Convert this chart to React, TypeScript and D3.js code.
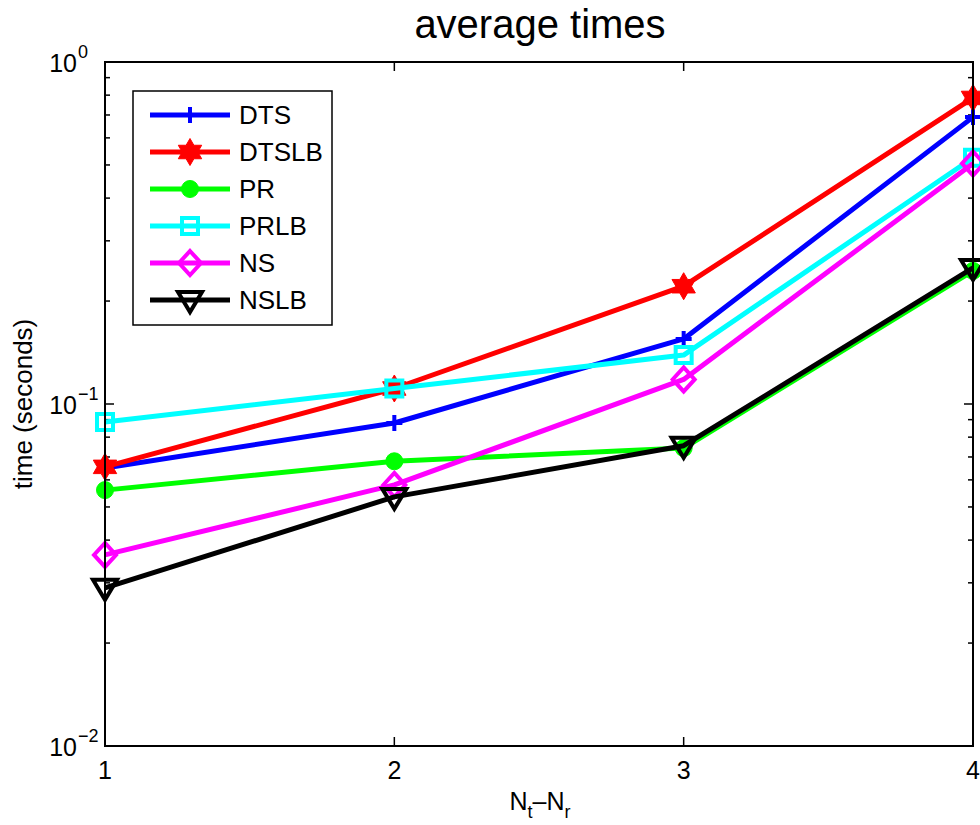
import React from 'react';
import * as d3 from 'd3';

const W = 980;
const H = 825;

const xValues = [1, 2, 3, 4];
const seriesNames = ['DTS', 'DTSLB', 'PR', 'PRLB', 'NS', 'NSLB'];
const seriesColors = ['#0000ff', '#ff0000', '#00ff00', '#00ffff', '#ff00ff', '#000000'];
const seriesMarkers = ['plus', 'hexagram', 'circle', 'square', 'diamond', 'triangleDown'];

const dts = [0.065, 0.088, 0.155, 0.69];
const dtslb = [0.0655, 0.111, 0.221, 0.785];
const pr = [0.056, 0.068, 0.0743, 0.245];
const prlb = [0.0886, 0.111, 0.139, 0.525];
const ns = [0.0362, 0.058, 0.118, 0.505];
const nslb = [0.029, 0.0535, 0.0755, 0.25];
const seriesValues = [dts, dtslb, pr, prlb, ns, nslb];

const yMajor = [0.01, 0.1, 1];
const yMajorExp = ['\u22122', '\u22121', '0'];

const margin = { left: 105, right: 7, top: 62, bottom: 79 };

function markerPath(kind: string) {
  switch (kind) {
    case 'plus':
      return 'M-8,0H8M0,-8V8';
    case 'hexagram': {
      const R = 13.5;
      const r = R / Math.sqrt(3);
      const pts = d3.range(12).map((i) => {
        const a = -Math.PI / 2 + (i * Math.PI) / 6;
        const rr = i % 2 === 0 ? R : r;
        return [rr * Math.cos(a), rr * Math.sin(a)];
      });
      return 'M' + pts.map((p) => p.join(',')).join('L') + 'Z';
    }
    case 'square':
      return 'M-8,-8H8V8H-8Z';
    case 'diamond':
      return 'M0,-12L11,0L0,12L-11,0Z';
    case 'triangleDown':
      return 'M-12,-8H12L0,12Z';
    default:
      return '';
  }
}

function Marker({ kind, color, x, y }: { kind: string; color: string; x: number; y: number }) {
  if (kind === 'circle') {
    return <circle cx={x} cy={y} r={8.5} fill={color} stroke={color} strokeWidth={1} />;
  }
  const filled = kind === 'hexagram';
  return (
    <path
      d={markerPath(kind)}
      transform={`translate(${x},${y})`}
      fill={filled ? color : 'none'}
      stroke={color}
      strokeWidth={kind === 'hexagram' ? 1 : 4}
      strokeLinejoin="miter"
    />
  );
}

export default function App() {
  const x = d3.scaleLinear().domain([1, 4]).range([margin.left, W - margin.right]);
  const y = d3.scaleLog().domain([0.01, 1]).range([H - margin.bottom, margin.top]);
  const [x0, x1] = x.range();
  const [y0, y1] = y.range();

  // log minor ticks 2..9 per decade
  const minor: number[] = [];
  [0.01, 0.1].forEach((base) => {
    for (let k = 2; k <= 9; k++) minor.push(base * k);
  });

  const line = d3
    .line<number>()
    .x((_, i) => x(xValues[i]))
    .y((d) => y(d));

  const font = 'Liberation Sans, Arial, Helvetica, sans-serif';

  return (
    <svg
      width={W}
      height={H}
      style={{ position: 'absolute', left: 0, top: 0, background: '#fff' }}
      fontFamily={font}
    >
      <rect width={W} height={H} fill="#fff" />

      {/* ticks */}
      {yMajor.map((v) => (
        <g key={'ym' + v}>
          <line x1={x0} x2={x0 + 9} y1={y(v)} y2={y(v)} stroke="#000" strokeWidth={1.5} />
          <line x1={x1} x2={x1 - 9} y1={y(v)} y2={y(v)} stroke="#000" strokeWidth={1.5} />
        </g>
      ))}
      {minor.map((v) => (
        <g key={'yn' + v}>
          <line x1={x0} x2={x0 + 5} y1={y(v)} y2={y(v)} stroke="#000" strokeWidth={1.5} />
          <line x1={x1} x2={x1 - 5} y1={y(v)} y2={y(v)} stroke="#000" strokeWidth={1.5} />
        </g>
      ))}
      {xValues.map((v) => (
        <g key={'xt' + v}>
          <line x1={x(v)} x2={x(v)} y1={y0} y2={y0 - 9} stroke="#000" strokeWidth={1.5} />
          <line x1={x(v)} x2={x(v)} y1={y1} y2={y1 + 9} stroke="#000" strokeWidth={1.5} />
        </g>
      ))}

      {/* series */}
      {seriesValues.map((vals, si) => (
        <g key={seriesNames[si]}>
          <path
            d={line(vals) || ''}
            fill="none"
            stroke={seriesColors[si]}
            strokeWidth={5}
            strokeLinejoin="round"
          />
          {vals.map((v, i) => (
            <Marker
              key={i}
              kind={seriesMarkers[si]}
              color={seriesColors[si]}
              x={x(xValues[i])}
              y={y(v)}
            />
          ))}
        </g>
      ))}

      {/* axes box */}
      <rect
        x={x0}
        y={y1}
        width={x1 - x0}
        height={y0 - y1}
        fill="none"
        stroke="#000"
        strokeWidth={2}
      />

      {/* tick labels */}
      {xValues.map((v) => (
        <text key={'xl' + v} x={x(v)} y={y0 + 33} fontSize={25} textAnchor="middle" fill="#000">
          {v}
        </text>
      ))}
      {yMajor.map((v, i) => (
        <g key={'yl' + v}>
          <text x={77} y={y(v) + 10} fontSize={25} textAnchor="end" fill="#000">
            10
          </text>
          <text x={78} y={y(v) - 4} fontSize={18} fill="#000">
            {yMajorExp[i]}
          </text>
        </g>
      ))}

      {/* axis labels */}
      <text
        transform={`translate(32,${(y0 + y1) / 2}) rotate(-90)`}
        fontSize={26}
        textAnchor="middle"
        fill="#000"
      >
        time (seconds)
      </text>
      <text x={540} y={810} fontSize={25} textAnchor="middle" fill="#000">
        N<tspan fontSize={18} dy={8}>t</tspan>
        <tspan dy={-8}>{'\u2013'}N</tspan>
        <tspan fontSize={18} dy={8}>r</tspan>
      </text>

      {/* title */}
      <text x={540} y={38} fontSize={40} textAnchor="middle" fill="#000">
        average times
      </text>

      {/* legend */}
      <g>
        <rect x={133} y={91} width={199} height={234} fill="#fff" stroke="#000" strokeWidth={1.5} />
        {seriesNames.map((name, i) => {
          const ly = 115 + i * 37;
          return (
            <g key={'lg' + name}>
              <line x1={150} x2={230} y1={ly} y2={ly} stroke={seriesColors[i]} strokeWidth={5} />
              <Marker kind={seriesMarkers[i]} color={seriesColors[i]} x={190} y={ly} />
              <text x={239} y={ly + 9} fontSize={26} fill="#000">
                {name}
              </text>
            </g>
          );
        })}
      </g>
    </svg>
  );
}
